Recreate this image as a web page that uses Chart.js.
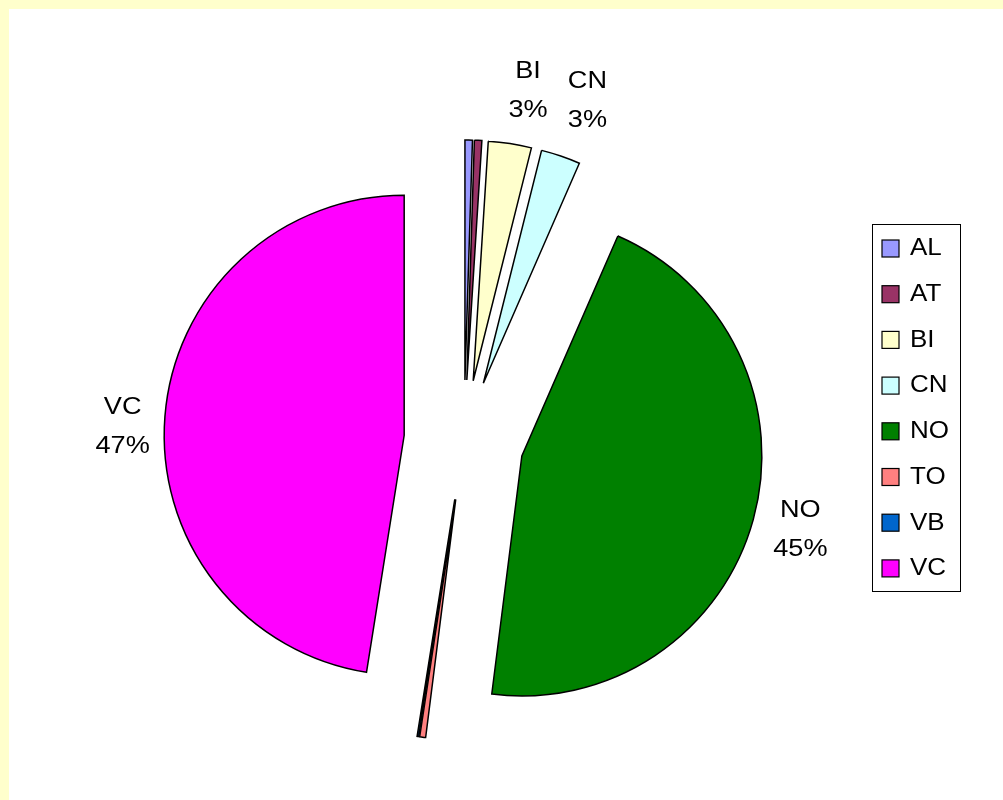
<!DOCTYPE html>
<html>
<head>
<meta charset="utf-8">
<script src="https://cdn.jsdelivr.net/npm/chart.js@4.4.1/dist/chart.umd.min.js"></script>
<style>
  html, body { margin: 0; padding: 0; background: #FFFFCC; }
  #wrap { position: absolute; left: 9px; top: 9px; width: 994px; height: 791px; background: #ffffff; }
</style>
</head>
<body>
<div id="wrap"><canvas id="pie"></canvas></div>
<script>
// data (share of total, %)
const categories = ['AL', 'AT', 'BI', 'CN', 'NO', 'TO', 'VB', 'VC'];
const shares = [0.5, 0.5, 2.9, 2.65, 45.45, 0.4, 0.11, 47.49];
const sliceColors = ['#9999FF', '#993366', '#FFFFCC', '#CCFFFF', '#008000', '#FF8080', '#0066CC', '#FF00FF'];
const labelledCategories = ['BI', 'CN', 'NO', 'VC'];

const explode = 60; // distance every slice is pulled out
const fontFamily = '"Liberation Sans", Arial, sans-serif';
const textStretch = 1.13; // the original text is drawn a bit wider than normal
// small hand adjustments of the data label positions (px)
const labelNudge = { BI: [9, 5], CN: [8, 0], NO: [3, -2], VC: [0, 14] };

function wideText(ctx, text, x, y) {
    ctx.save();
    ctx.translate(x, y);
    ctx.scale(textStretch, 1);
    ctx.fillText(text, 0, 0);
    ctx.restore();
}

// draws each slice moved out along its middle angle, then labels and legend
const explodedPie = {
    id: 'explodedPie',
    beforeDatasetDraw(chart, args) {
        const ctx = chart.ctx;
        args.meta.data.forEach(arc => {
            const mid = (arc.startAngle + arc.endAngle) / 2;
            ctx.save();
            ctx.translate(Math.cos(mid) * explode, Math.sin(mid) * explode);
            arc.draw(ctx);
            ctx.restore();
        });
        return false;
    },
    afterDraw(chart) {
        const ctx = chart.ctx;
        const meta = chart.getDatasetMeta(0);
        const values = chart.data.datasets[0].data;
        const total = values.reduce((a, b) => a + b, 0);

        // data labels
        ctx.save();
        ctx.fillStyle = '#000';
        ctx.font = '24px ' + fontFamily;
        ctx.textAlign = 'center';
        ctx.textBaseline = 'middle';
        meta.data.forEach((arc, i) => {
            const name = chart.data.labels[i];
            if (!labelledCategories.includes(name)) return;
            const mid = (arc.startAngle + arc.endAngle) / 2;
            const d = arc.outerRadius + explode + 41 + 18 * Math.abs(Math.sin(mid));
            const nudge = labelNudge[name] || [0, 0];
            const x = arc.x + Math.cos(mid) * d + nudge[0];
            const y = arc.y + Math.sin(mid) * d + nudge[1];
            const pct = Math.round(values[i] / total * 100) + '%';
            wideText(ctx, name, x, y - 19.5);
            wideText(ctx, pct, x, y + 19.5);
        });
        ctx.restore();

        // legend box
        ctx.save();
        ctx.strokeStyle = '#000';
        ctx.lineWidth = 1;
        ctx.strokeRect(863.5, 215.5, 88, 367);
        ctx.font = '23px ' + fontFamily;
        ctx.textAlign = 'left';
        ctx.textBaseline = 'middle';
        chart.data.labels.forEach((name, i) => {
            const top = 231 + i * 45.7;
            ctx.fillStyle = sliceColors[i];
            ctx.fillRect(873, top, 17, 17);
            ctx.lineWidth = 1.2;
            ctx.strokeRect(873, top, 17, 17);
            ctx.fillStyle = '#000';
            wideText(ctx, name, 901, top + 9);
        });
        ctx.restore();
    }
};

new Chart(document.getElementById('pie'), {
    type: 'pie',
    data: {
        labels: categories,
        datasets: [{
            data: shares,
            backgroundColor: sliceColors,
            borderColor: '#000000',
            borderWidth: 1.5,
            borderJoinStyle: 'miter'
        }]
    },
    options: {
        responsive: true,
        maintainAspectRatio: false,
        animation: false,
        radius: 240,
        layout: { padding: { left: 0, right: 84, top: 71, bottom: 0 } },
        plugins: {
            legend: { display: false },
            tooltip: { enabled: false }
        }
    },
    plugins: [explodedPie]
});
</script>
</body>
</html>
